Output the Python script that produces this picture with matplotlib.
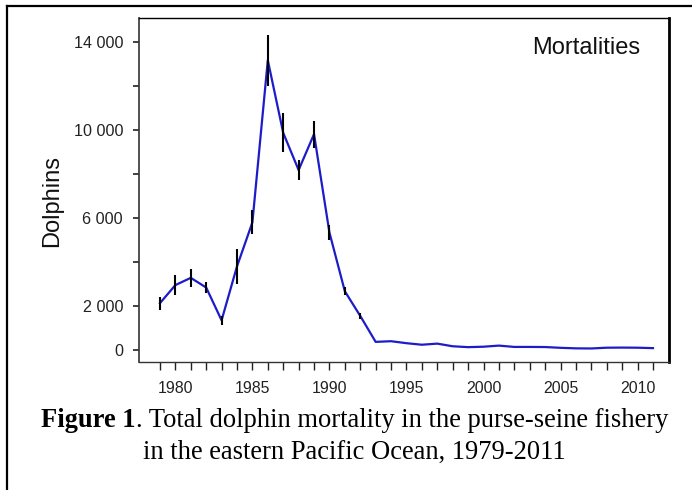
import matplotlib
matplotlib.use("Agg")
import matplotlib.pyplot as plt
from matplotlib.ticker import FixedLocator, MultipleLocator, FuncFormatter
from matplotlib.lines import Line2D

years = list(range(1979, 2012))
mortality = [2130, 2950, 3280, 2840, 1350, 3800, 5800, 13170, 9870, 8180,
             9810, 5340, 2670, 1550, 370, 400, 310, 240, 290, 170,
             130, 150, 200, 140, 140, 135, 100, 75, 70, 105,
             110, 105, 85]
err_years = list(range(1979, 1993))
err_half = [290, 455, 395, 255, 205, 795, 545, 1150, 885, 455, 620, 340, 190, 130]
ytick_labels = {0: "0", 2000: "2 000", 6000: "6 000", 10000: "10 000", 14000: "14 000"}
xtick_labels = [1980, 1985, 1990, 1995, 2000, 2005, 2010]

W, H = 692, 490
fig = plt.figure(figsize=(W / 100, H / 100), dpi=100)
fig.patch.set_facecolor("white")

# outer page frame (left and top visible)
fig.add_artist(Line2D([6.5 / W, 6.5 / W], [0, 1 - 6 / H], transform=fig.transFigure,
                      color="black", lw=1.6))
fig.add_artist(Line2D([6.5 / W, 1.0], [1 - 6 / H, 1 - 6 / H], transform=fig.transFigure,
                      color="black", lw=1.6))

ax = fig.add_axes([139 / W, 1 - 362 / H, (669 - 139) / W, (362 - 18) / H])
ax.plot(years, mortality, color="#1c1cc8", lw=1.6, zorder=2)
err_vals = [mortality[years.index(y)] for y in err_years]
ax.errorbar(err_years, err_vals, yerr=err_half, fmt="none", ecolor="black",
            elinewidth=1.5, capsize=0, zorder=3)

ax.set_xlim(1977.64, 2012.04)
ax.set_ylim(-545, 15090)

ax.xaxis.set_major_locator(FixedLocator(years))
ax.xaxis.set_major_formatter(FuncFormatter(lambda v, p: str(int(round(v))) if int(round(v)) in xtick_labels else ""))
ax.yaxis.set_major_locator(MultipleLocator(2000))
ax.yaxis.set_major_formatter(FuncFormatter(lambda v, p: ytick_labels.get(int(round(v)), "")))

ax.tick_params(axis="x", direction="out", length=5.5, width=1.0, color="#222222",
               labelsize=11.4, labelcolor="#222222", pad=8)
ax.tick_params(axis="y", direction="out", length=4.5, width=1.2, color="#222222",
               labelsize=11.6, labelcolor="#222222", pad=7)
for lab in ax.get_xticklabels() + ax.get_yticklabels():
    lab.set_fontfamily("Liberation Sans")

ax.spines["left"].set_color("#333333")
ax.spines["left"].set_linewidth(1.2)
ax.spines["bottom"].set_color("#333333")
ax.spines["bottom"].set_linewidth(1.0)
ax.spines["top"].set_color("black")
ax.spines["top"].set_linewidth(1.0)
ax.spines["right"].set_color("black")
ax.spines["right"].set_linewidth(2.0)

ax.text((532 - 139) / 530, (362 - 54.3) / 344, "Mortalities", transform=ax.transAxes,
        ha="left", va="baseline", fontsize=17, family="Liberation Sans", color="#111111")

fig.text(52 / W, 1 - 201 / H, "Dolphins", rotation=90, ha="center", va="center",
         fontsize=17, family="Liberation Sans", color="#111111")

# caption
cap_size = 19.1
renderer = fig.canvas.get_renderer()
t_bold = fig.text(0, 1 - 427 / H, "Figure 1", fontsize=cap_size, family="Liberation Serif",
                  weight="bold", ha="left", va="baseline")
t_rest = fig.text(0, 1 - 427 / H, ". Total dolphin mortality in the purse-seine fishery",
                  fontsize=cap_size, family="Liberation Serif", ha="left", va="baseline")
wb = t_bold.get_window_extent(renderer).width
wr = t_rest.get_window_extent(renderer).width
center = 354.7
x0 = center - (wb + wr) / 2
t_bold.set_x(x0 / W)
t_rest.set_x((x0 + wb) / W)
fig.text(center / W, 1 - 458.5 / H, "in the eastern Pacific Ocean, 1979-2011",
         fontsize=cap_size, family="Liberation Serif", ha="center", va="baseline")

fig.savefig("out.png", dpi=100, facecolor="white")
